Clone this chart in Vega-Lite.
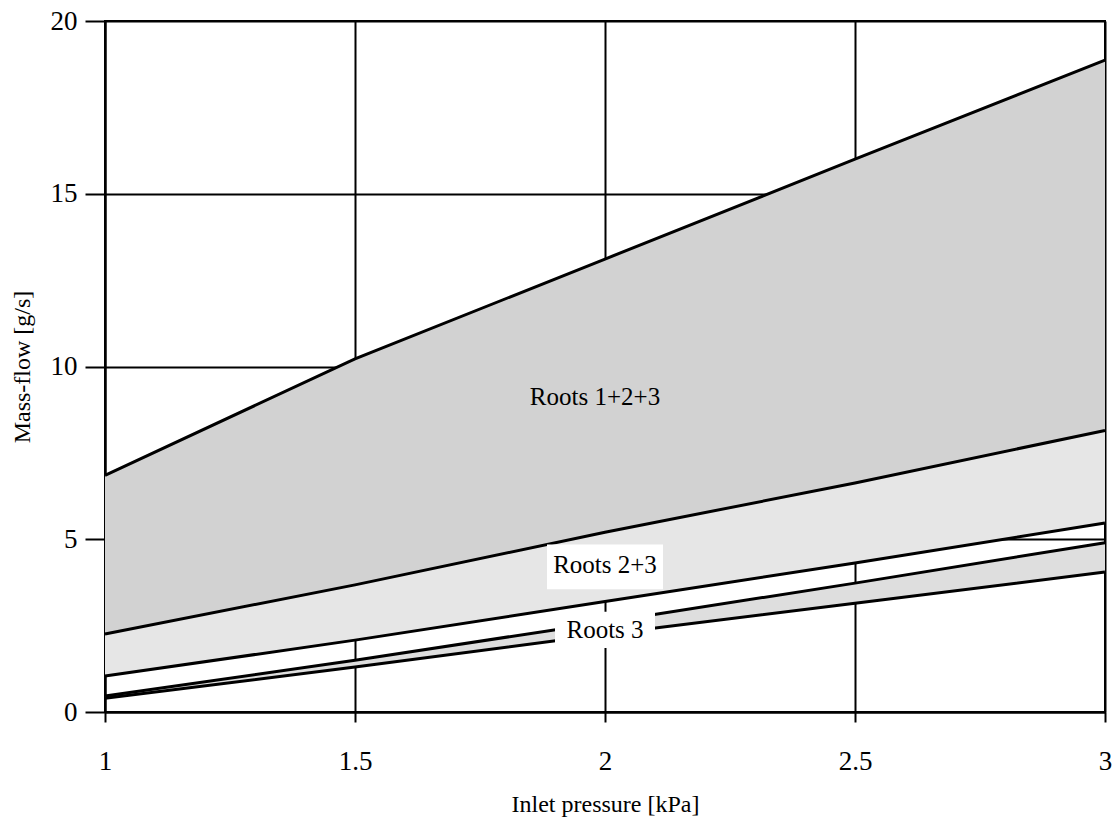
{
  "$schema": "https://vega.github.io/schema/vega-lite/v6.json",
  "width": 1000,
  "height": 691,
  "autosize": {"type": "none"},
  "padding": {"left": 105, "top": 21, "right": 15, "bottom": 107},
  "background": "white",
  "config": {
    "font": "Liberation Serif",
    "view": {"stroke": "black", "strokeWidth": 2},
    "axis": {
      "domainColor": "black", "domainWidth": 2,
      "gridColor": "black", "gridWidth": 2, "gridOpacity": 1,
      "tickColor": "black", "tickWidth": 2,
      "labelColor": "black", "titleColor": "black",
      "labelFont": "Liberation Serif", "titleFont": "Liberation Serif",
      "labelFontSize": 27, "titleFontSize": 24, "titleFontWeight": "normal"
    }
  },
  "datasets": {
    "curves": [
      {"p": 1.0, "top": 6.85, "l2": 2.26, "l3": 1.04, "l4": 0.46, "l5": 0.40},
      {"p": 1.5, "top": 10.22, "l2": 3.68, "l3": 2.08, "l4": 1.50, "l5": 1.30},
      {"p": 2.0, "top": 13.11, "l2": 5.20, "l3": 3.20, "l4": 2.60, "l5": 2.25},
      {"p": 2.5, "top": 16.00, "l2": 6.63, "l3": 4.31, "l4": 3.73, "l5": 3.15},
      {"p": 3.0, "top": 18.87, "l2": 8.15, "l3": 5.47, "l4": 4.90, "l5": 4.05}
    ],
    "boxes": [
      {"p1": 1.884, "p2": 2.116, "f1": 3.55, "f2": 4.85},
      {"p1": 1.90, "p2": 2.10, "f1": 1.85, "f2": 2.9}
    ],
    "labels": [
      {"p": 1.98, "flow": 9.12, "text": "Roots 1+2+3"},
      {"p": 2.0, "flow": 4.25, "text": "Roots 2+3"},
      {"p": 2.0, "flow": 2.37, "text": "Roots 3"}
    ]
  },
  "layer": [
    {
      "data": {"name": "curves"},
      "mark": {"type": "area", "color": "#d2d2d2", "opacity": 1},
      "encoding": {
        "x": {
          "field": "p", "type": "quantitative",
          "scale": {"domain": [1, 3], "nice": false, "zero": false},
          "axis": {
            "values": [1, 1.5, 2, 2.5, 3], "format": "~g",
            "title": "Inlet pressure [kPa]",
            "tickSize": 10, "labelPadding": 26, "titlePadding": 18,
            "labelFlush": false
          }
        },
        "y": {
          "field": "l2", "type": "quantitative",
          "scale": {"domain": [0, 20], "nice": false},
          "axis": {
            "values": [0, 5, 10, 15, 20],
            "title": "Mass-flow [g/s]",
            "tickSize": 20, "labelPadding": 8, "titlePadding": 16
          }
        },
        "y2": {"field": "top"}
      }
    },
    {
      "data": {"name": "curves"},
      "mark": {"type": "area", "color": "#e6e6e6", "opacity": 1},
      "encoding": {
        "x": {"field": "p", "type": "quantitative"},
        "y": {"field": "l3", "type": "quantitative"},
        "y2": {"field": "l2"}
      }
    },
    {
      "data": {"name": "curves"},
      "mark": {"type": "area", "color": "#dedede", "opacity": 1},
      "encoding": {
        "x": {"field": "p", "type": "quantitative"},
        "y": {"field": "l5", "type": "quantitative"},
        "y2": {"field": "l4"}
      }
    },
    {
      "data": {"name": "curves"},
      "transform": [
        {"fold": ["top", "l2", "l3", "l4", "l5"], "as": ["curve", "flow"]}
      ],
      "mark": {"type": "line", "color": "black", "strokeWidth": 3},
      "encoding": {
        "x": {"field": "p", "type": "quantitative"},
        "y": {"field": "flow", "type": "quantitative"},
        "detail": {"field": "curve"}
      }
    },
    {
      "data": {"name": "boxes"},
      "mark": {"type": "rect", "color": "white", "opacity": 1},
      "encoding": {
        "x": {"field": "p1", "type": "quantitative"},
        "x2": {"field": "p2"},
        "y": {"field": "f1", "type": "quantitative"},
        "y2": {"field": "f2"}
      }
    },
    {
      "data": {"name": "labels"},
      "mark": {"type": "text", "font": "Liberation Serif", "fontSize": 25, "color": "black", "align": "center", "baseline": "middle"},
      "encoding": {
        "x": {"field": "p", "type": "quantitative"},
        "y": {"field": "flow", "type": "quantitative"},
        "text": {"field": "text"}
      }
    }
  ]
}
